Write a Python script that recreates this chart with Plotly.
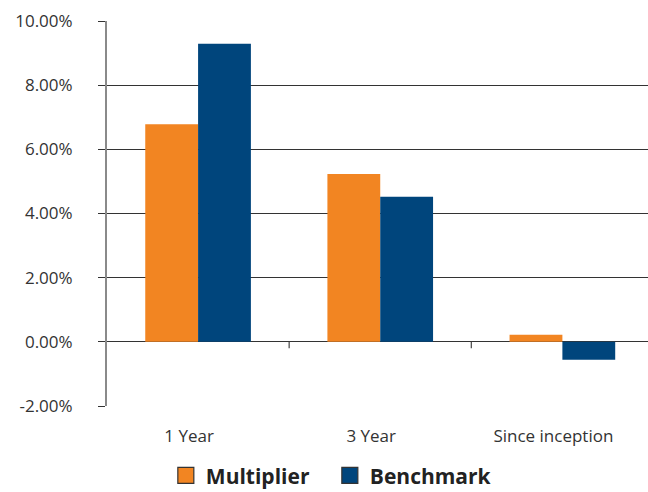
import plotly.graph_objects as go

categories = ["1 Year", "3 Year", "Since inception"]
multiplier = [6.78, 5.23, 0.22]
benchmark = [9.29, 4.52, -0.56]
y_ticks = [-2, 0, 2, 4, 6, 8, 10]
y_tick_labels = ["-2.00%", "0.00%", "2.00%", "4.00%", "6.00%", "8.00%", "10.00%"]

orange = "#F28522"
blue = "#00457C"
font_family = "Open Sans, Noto Sans, sans-serif"

fig = go.Figure()
fig.add_trace(go.Bar(x=categories, y=multiplier, name="Multiplier", showlegend=False,
                     marker=dict(color=orange, line=dict(width=0))))
fig.add_trace(go.Bar(x=categories, y=benchmark, name="Benchmark", showlegend=False,
                     marker=dict(color=blue, line=dict(width=0))))
# legend entries with outlined square swatches
fig.add_trace(go.Scatter(x=[None], y=[None], mode="markers", name="Multiplier",
                         marker=dict(symbol="square", size=16, color=orange,
                                     line=dict(color="#333", width=1.2))))
fig.add_trace(go.Scatter(x=[None], y=[None], mode="markers", name="Benchmark",
                         marker=dict(symbol="square", size=16, color=blue,
                                     line=dict(color="#333", width=1.2))))

# category boundary tick marks at zero line
for b in [0.5, 1.5]:
    fig.add_shape(type="line", xref="x", yref="y", x0=b, x1=b, y0=0, y1=-0.2,
                  line=dict(color="#444", width=1.2))

fig.update_layout(
    width=648, height=492,
    margin=dict(l=107, r=0, t=21, b=86, autoexpand=False),
    paper_bgcolor="white", plot_bgcolor="white",
    barmode="group", bargap=0.42, bargroupgap=0,
    font=dict(family=font_family, size=17, color="#333"),
    showlegend=True,
    legend=dict(orientation="h", x=0.509, xref="container", xanchor="center",
                y=0.033, yref="container", yanchor="middle",
                font=dict(size=21, color="#222", family=font_family, weight="bold"),
                itemsizing="trace", traceorder="normal", itemwidth=30,
                entrywidth=119, entrywidthmode="pixels",
                tracegroupgap=0),
    xaxis=dict(range=[-0.5, 2.47], showgrid=False, showline=False, ticks="",
               tickfont=dict(size=17, color="#333"), ticklabelstandoff=18,
               ticklabelshift=-9),
    yaxis=dict(range=[-2, 10], tickvals=y_ticks, ticktext=y_tick_labels,
               showgrid=True, gridcolor="#333", gridwidth=1.4,
               showline=True, linecolor="#8a8a8a", linewidth=2,
               ticks="outside", ticklen=7, tickcolor="#333", tickwidth=1.4,
               zeroline=True, zerolinecolor="#333", zerolinewidth=1.4,
               tickfont=dict(size=17, color="#333"), ticklabelstandoff=22),
)

fig.write_html("out.html")
